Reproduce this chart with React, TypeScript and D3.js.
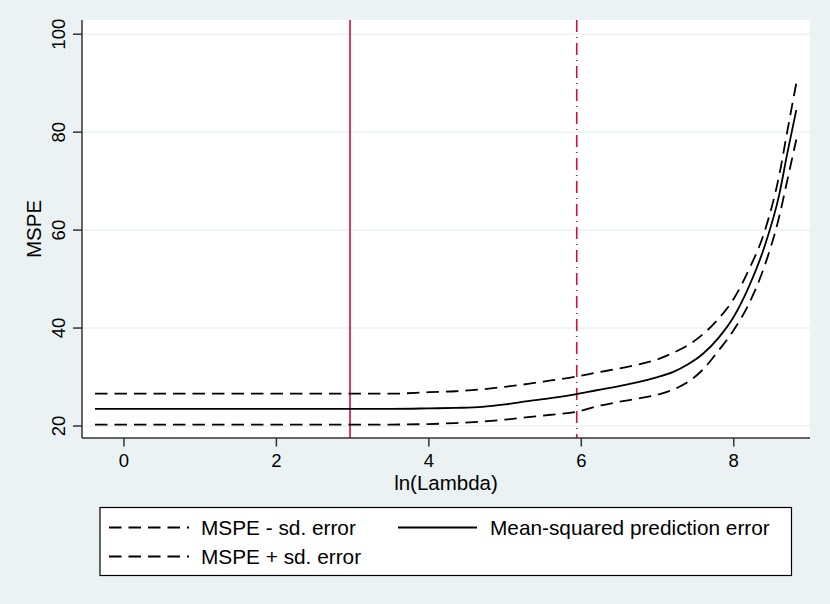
import React from 'react';
import * as d3 from 'd3';

// ln(lambda) grid and cross-validation curves
const lnLambda = [-0.38, 0, 1, 2, 3, 3.5, 4, 4.35, 4.7, 5.0, 5.3, 5.6, 5.94, 6.2, 6.45, 6.7, 7.0, 7.2, 7.4, 7.6, 7.8, 8.0, 8.2, 8.4, 8.6, 8.7, 8.82];
const mspe = [23.5, 23.5, 23.5, 23.5, 23.5, 23.5, 23.6, 23.7, 23.9, 24.4, 25.1, 25.7, 26.5, 27.3, 28.0, 28.8, 30.0, 31.0, 32.6, 34.8, 38.0, 42.3, 48.5, 56.5, 67.5, 75.5, 84.5];
const mspeUpper = [26.6, 26.6, 26.6, 26.6, 26.6, 26.6, 26.9, 27.1, 27.5, 28.0, 28.6, 29.3, 30.1, 30.9, 31.6, 32.4, 33.6, 34.9, 36.5, 38.8, 41.9, 46.0, 52.0, 59.5, 71.5, 80.0, 90.0];
const mspeLower = [20.3, 20.3, 20.3, 20.3, 20.3, 20.3, 20.4, 20.6, 20.9, 21.3, 21.8, 22.3, 22.9, 24.0, 24.8, 25.5, 26.4, 27.4, 29.0, 31.6, 35.4, 39.6, 45.0, 52.5, 63.0, 70.0, 78.5];

const xTicks = [0, 2, 4, 6, 8];
const yTicks = [20, 40, 60, 80, 100];
const lambdaCV = 2.966;   // solid red line
const lambdaSE = 5.94;    // dash-dot red line

const width = 830;
const height = 604;
const margin = { top: 20, right: 20, bottom: 166, left: 82 };

const bg = '#EAF2F3';
const red = '#D0103A';
const font = '"Liberation Sans", Arial, Helvetica, sans-serif';

const x = d3.scaleLinear()
  .domain([-0.55, 9.0])
  .range([margin.left, width - margin.right]);

const y = d3.scaleLinear()
  .domain([17.55, 102.9])
  .range([height - margin.bottom, margin.top]);

type Pt = [number, number];
const line = d3.line<Pt>()
  .x(d => x(d[0]))
  .y(d => y(d[1]))
  .curve(d3.curveMonotoneX);

const toPts = (vals: number[]): Pt[] => lnLambda.map((l, i) => [l, vals[i]]);

export default function App() {
  const x0 = margin.left;
  const x1 = width - margin.right;
  const y0 = height - margin.bottom;
  const y1 = margin.top;
  const dash = '12.5,7';

  return (
    <svg width={width} height={height} style={{ position: 'absolute', left: 0, top: 0 }} fontFamily={font}>
      <rect width={width} height={height} fill={bg} />
      <rect x={x0} y={y1} width={x1 - x0} height={y0 - y1} fill="#fff" />

      {/* horizontal grid */}
      {yTicks.map(t => (
        <line key={'g' + t} x1={x0} x2={x1} y1={y(t)} y2={y(t)} stroke={bg} strokeWidth={1.5} />
      ))}

      {/* reference lines */}
      <line x1={x(lambdaCV)} x2={x(lambdaCV)} y1={y1} y2={y0} stroke={red} strokeWidth={1.6} />
      <line x1={x(lambdaSE)} x2={x(lambdaSE)} y1={y1} y2={y0} stroke={red} strokeWidth={1.6}
        strokeDasharray="12,5,1,5" />

      {/* curves */}
      <path d={line(toPts(mspeUpper)) ?? ''} fill="none" stroke="#000" strokeWidth={1.8} strokeDasharray={dash} />
      <path d={line(toPts(mspeLower)) ?? ''} fill="none" stroke="#000" strokeWidth={1.8} strokeDasharray={dash} />
      <path d={line(toPts(mspe)) ?? ''} fill="none" stroke="#000" strokeWidth={1.8} />

      {/* axes */}
      <line x1={x0} x2={x0} y1={y1} y2={y0} stroke="#333" strokeWidth={1.5} />
      <line x1={x0} x2={x1} y1={y0} y2={y0} stroke="#333" strokeWidth={1.5} />
      {yTicks.map(t => (
        <g key={'y' + t}>
          <line x1={x0 - 9} x2={x0} y1={y(t)} y2={y(t)} stroke="#333" strokeWidth={1.5} />
          <text transform={`translate(65,${y(t)}) rotate(-90)`} textAnchor="middle" fontSize={18.5} fill="#000">{t}</text>
        </g>
      ))}
      {xTicks.map(t => (
        <g key={'x' + t}>
          <line x1={x(t)} x2={x(t)} y1={y0} y2={y0 + 8.5} stroke="#333" strokeWidth={1.5} />
          <text x={x(t)} y={467} textAnchor="middle" fontSize={18.5} fill="#000">{t}</text>
        </g>
      ))}
      <text x={(x0 + x1) / 2} y={490} textAnchor="middle" fontSize={20.5} fill="#000">ln(Lambda)</text>
      <text transform={`translate(41,${(y0 + y1) / 2}) rotate(-90)`} textAnchor="middle" fontSize={20.5} fill="#000">MSPE</text>

      {/* legend */}
      <rect x={100} y={507.5} width={691.5} height={68} fill="#fff" stroke="#000" strokeWidth={1.2} />
      <line x1={109} x2={189} y1={527.5} y2={527.5} stroke="#000" strokeWidth={1.8} strokeDasharray={dash} />
      <text x={201} y={535} fontSize={20.8} fill="#000">MSPE - sd. error</text>
      <line x1={398} x2={477} y1={527.5} y2={527.5} stroke="#000" strokeWidth={1.8} />
      <text x={490} y={535} fontSize={20.8} fill="#000">Mean-squared prediction error</text>
      <line x1={109} x2={189} y1={556.5} y2={556.5} stroke="#000" strokeWidth={1.8} strokeDasharray={dash} />
      <text x={201} y={564} fontSize={20.8} fill="#000">MSPE + sd. error</text>
    </svg>
  );
}
